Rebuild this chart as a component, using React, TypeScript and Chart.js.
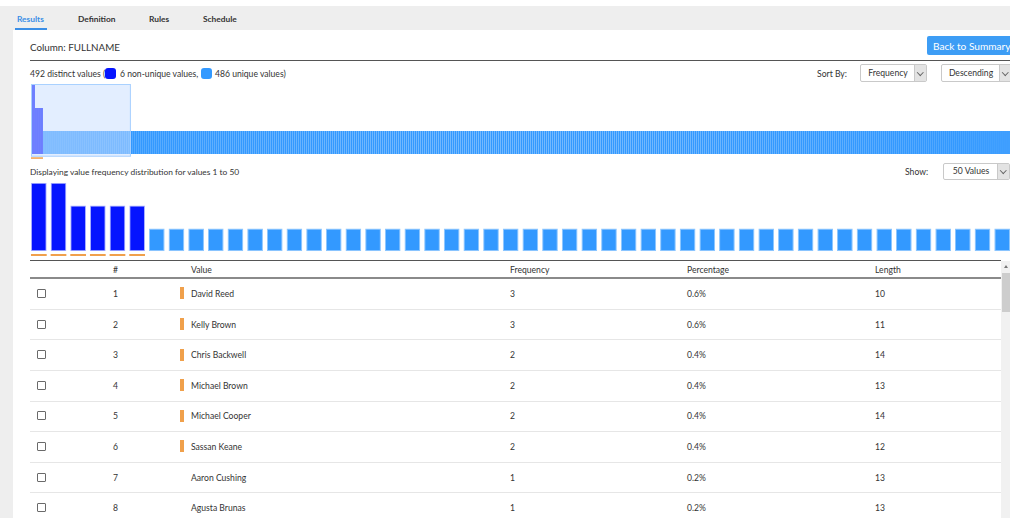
import React, { useEffect, useRef } from "react";
import { Chart, registerables } from "chart.js";

Chart.register(...registerables);

// ---------- data ----------
const nonUniqueFrequencies = [3, 3, 2, 2, 2, 2];
const uniqueValueCount = 486; // "486 unique values" – each occurs exactly once
const uniqueFrequency = 1;
const distinctCount = 492;
const detailRange = [1, 50];
const yMax = 3;

const tableNumbers = [1, 2, 3, 4, 5, 6, 7, 8];
const tableValues = [
  "David Reed",
  "Kelly Brown",
  "Chris Backwell",
  "Michael Brown",
  "Michael Cooper",
  "Sassan Keane",
  "Aaron Cushing",
  "Agusta Brunas",
];
const tableFrequencies = [3, 3, 2, 2, 2, 2, 1, 1];
const tablePercentages = ["0.6%", "0.6%", "0.4%", "0.4%", "0.4%", "0.4%", "0.2%", "0.2%"];
const tableLengths = [10, 11, 14, 13, 14, 12, 13, 13];

const allFrequencies: number[] = [
  ...nonUniqueFrequencies,
  ...new Array(uniqueValueCount).fill(uniqueFrequency),
];
const allLabels = allFrequencies.map((_, i) => String(i + 1));
const detailFrequencies = allFrequencies.slice(detailRange[0] - 1, detailRange[1]);
const detailLabels = allLabels.slice(detailRange[0] - 1, detailRange[1]);

// ---------- styles ----------
const FONT = "Lato, 'Open Sans', sans-serif";
const NON_UNIQUE = "#0514ff";
const UNIQUE = "#3399ff";
const ORANGE = "#f0a04b";
const TEXT = "#333333";

function markerPlugin(offset: number, h: number, fullPitch: boolean) {
  return {
    id: "nonUniqueMarkers",
    afterDatasetsDraw(chart: any) {
      const ctx = chart.ctx;
      const meta = chart.getDatasetMeta(0);
      const data = chart.data.datasets[0].data as number[];
      const xs = chart.scales.x;
      const pitch = xs.getPixelForValue(1) - xs.getPixelForValue(0);
      ctx.save();
      ctx.fillStyle = ORANGE;
      meta.data.forEach((el: any, i: number) => {
        if (data[i] > uniqueFrequency) {
          const { x, width } = el.getProps(["x", "width"], true);
          const w = fullPitch ? pitch : width;
          ctx.fillRect(x - w / 2, chart.chartArea.bottom + offset, w, h);
        }
      });
      ctx.restore();
    },
  };
}

const selectionPlugin = {
  id: "selection",
  afterDatasetsDraw(chart: any) {
    const ctx = chart.ctx;
    const xs = chart.scales.x;
    const pitch = xs.getPixelForValue(1) - xs.getPixelForValue(0);
    const l = xs.getPixelForValue(detailRange[0] - 1) - pitch / 2;
    const r = xs.getPixelForValue(detailRange[1] - 1) + pitch / 2;
    const t = chart.chartArea.top - 1;
    const b = chart.chartArea.bottom + 2.7;
    ctx.save();
    ctx.fillStyle = "rgba(200,222,255,0.5)";
    ctx.fillRect(l, t, r - l, b - t);
    ctx.strokeStyle = "#a9d1ff";
    ctx.lineWidth = 1;
    ctx.strokeRect(l + 0.5, t + 0.5, r - l - 1, b - t - 1);
    ctx.restore();
  },
};

function useBarChart(
  ref: React.RefObject<HTMLCanvasElement>,
  labels: string[],
  values: number[],
  opts: {
    padTop: number;
    padBottom: number;
    barPct: number;
    border: boolean;
    plugins: any[];
  }
) {
  useEffect(() => {
    if (!ref.current) return;
    const chart = new Chart(ref.current, {
      type: "bar",
      data: {
        labels,
        datasets: [
          {
            data: values,
            backgroundColor: values.map((v) => (v > uniqueFrequency ? NON_UNIQUE : UNIQUE)),
            borderColor: values.map((v) => (v > uniqueFrequency ? "#a9b1ff" : "#8cc6ff")),
            borderWidth: opts.border ? 1 : 0,
            borderSkipped: false,
            barPercentage: opts.barPct,
            categoryPercentage: 1,
          },
        ],
      },
      options: {
        responsive: false,
        animation: false,
        layout: { padding: { top: opts.padTop, bottom: opts.padBottom, left: 0, right: 0 } },
        scales: {
          x: { display: false, offset: true },
          y: { display: false, min: 0, max: yMax },
        },
        plugins: { legend: { display: false }, tooltip: { enabled: false } },
      },
      plugins: opts.plugins,
    });
    return () => chart.destroy();
  }, []);
}

function T(props: {
  x: number;
  y: number;
  size?: number;
  color?: string;
  weight?: number;
  children: React.ReactNode;
}) {
  const { x, y, size = 8.6, color = TEXT, weight = 400, children } = props;
  return (
    <div
      style={{
        position: "absolute",
        left: x,
        top: y - 7,
        height: 14,
        lineHeight: "14px",
        fontSize: size,
        fontWeight: weight,
        color,
        whiteSpace: "nowrap",
        fontFamily: FONT,
      }}
    >
      {children}
    </div>
  );
}

function Select(props: { x: number; y: number; w: number; h: number; label: string }) {
  const { x, y, w, h, label } = props;
  const aw = 11;
  return (
    <div
      style={{
        position: "absolute",
        left: x,
        top: y,
        width: w,
        height: h,
        boxSizing: "border-box",
        border: "1px solid #c9c9c9",
        borderRadius: 2,
        background: "#fff",
        fontFamily: FONT,
      }}
    >
      <div
        style={{
          position: "absolute",
          left: 0,
          top: 0,
          width: w - aw - 2,
          height: h - 2,
          lineHeight: `${h - 2}px`,
          textAlign: "center",
          fontSize: 8.6,
          color: TEXT,
        }}
      >
        {label}
      </div>
      <div
        style={{
          position: "absolute",
          right: 0,
          top: 0,
          width: aw,
          height: h - 2,
          background: "#e3e3e3",
          borderLeft: "1px solid #c9c9c9",
        }}
      >
        <div
          style={{
            position: "absolute",
            left: 3,
            top: (h - 2) / 2 - 3.5,
            width: 3.5,
            height: 3.5,
            borderRight: "1px solid #666",
            borderBottom: "1px solid #666",
            transform: "rotate(45deg)",
          }}
        />
      </div>
    </div>
  );
}

function Swatch(props: { x: number; color: string }) {
  return (
    <div
      style={{
        position: "absolute",
        left: props.x,
        top: 68,
        width: 11,
        height: 11,
        borderRadius: 3,
        background: props.color,
      }}
    />
  );
}

export default function App() {
  const overviewRef = useRef<HTMLCanvasElement>(null);
  const detailRef = useRef<HTMLCanvasElement>(null);

  useBarChart(overviewRef, allLabels, allFrequencies, {
    padTop: 2,
    padBottom: 6,
    barPct: 0.94,
    border: false,
    plugins: [selectionPlugin, markerPlugin(3.3, 1.5, true)],
  });
  useBarChart(detailRef, detailLabels, detailFrequencies, {
    padTop: 2.7,
    padBottom: 8.7,
    barPct: 0.8,
    border: true,
    plugins: [markerPlugin(2.7, 2, false)],
  });

  const rowTop = 278.6;
  const rowH = 30.6;

  return (
    <div
      style={{
        position: "fixed",
        left: 0,
        top: 0,
        width: 1010,
        height: 518,
        overflow: "hidden",
        background: "#ffffff",
        fontFamily: FONT,
      }}
    >
      {/* page background */}
      <div style={{ position: "absolute", left: 0, top: 6, width: 1010, height: 512, background: "#eeeeee" }} />
      <div style={{ position: "absolute", left: 13, top: 30, width: 1100, height: 500, background: "#ffffff" }} />

      {/* tabs */}
      <T x={17} y={19} size={8.4} weight={700} color="#3a8ee6">Results</T>
      <T x={78} y={19} size={8.4} weight={700}>Definition</T>
      <T x={149} y={19} size={8.4} weight={700}>Rules</T>
      <T x={203} y={19} size={8.4} weight={700}>Schedule</T>
      <div style={{ position: "absolute", left: 15, top: 28, width: 32, height: 2, background: "#3a8ee6" }} />

      {/* header */}
      <T x={30} y={46.5} size={9.8}>Column: FULLNAME</T>
      <div
        style={{
          position: "absolute",
          left: 927,
          top: 35.5,
          width: 95,
          height: 19.5,
          background: "#3d9df5",
          borderRadius: 2,
        }}
      />
      <T x={933} y={45.5} size={10.1} color="#ffffff">Back to Summary</T>
      <div style={{ position: "absolute", left: 30, top: 60, width: 1000, height: 1, background: "#555" }} />

      {/* legend row */}
      <T x={30} y={73.5}>{`${distinctCount} distinct values (`}</T>
      <Swatch x={105} color={NON_UNIQUE} />
      <T x={120} y={73.5}>{`${nonUniqueFrequencies.length} non-unique values,`}</T>
      <Swatch x={201} color={UNIQUE} />
      <T x={215} y={73.5}>{`${uniqueValueCount} unique values)`}</T>

      <T x={817} y={73.5}>Sort By:</T>
      <Select x={860} y={64} w={67} h={18} label="Frequency" />
      <Select x={941} y={64} w={71} h={18} label="Descending" />

      {/* overview chart */}
      <canvas
        ref={overviewRef}
        width={983}
        height={77}
        style={{ position: "absolute", left: 31, top: 83, width: 983, height: 77 }}
      />

      <T x={30} y={172.3} size={8.4}>{`Displaying value frequency distribution for values ${detailRange[0]} to ${detailRange[1]}`}</T>
      <T x={905} y={172}>Show:</T>
      <Select x={943} y={163} w={67} h={17} label={`${detailRange[1]} Values`} />

      {/* detail chart */}
      <canvas
        ref={detailRef}
        width={983}
        height={80}
        style={{ position: "absolute", left: 29, top: 180, width: 983, height: 80 }}
      />

      {/* table */}
      <div style={{ position: "absolute", left: 30, top: 260, width: 971, height: 1, background: "#555" }} />
      <T x={113} y={269.5}>#</T>
      <T x={191} y={269.5}>Value</T>
      <T x={510} y={269.5}>Frequency</T>
      <T x={687} y={269.5}>Percentage</T>
      <T x={875} y={269.5}>Length</T>
      <div style={{ position: "absolute", left: 30, top: 277, width: 971, height: 2, background: "#8a8a8a" }} />

      {tableNumbers.map((n, i) => {
        const top = rowTop + i * rowH;
        const cy = top + rowH / 2;
        return (
          <React.Fragment key={n}>
            <div
              style={{
                position: "absolute",
                left: 37,
                top: cy - 5,
                width: 9,
                height: 9,
                boxSizing: "border-box",
                border: "1px solid #6a6a6a",
                borderRadius: 1,
                background: "#fff",
              }}
            />
            <T x={113} y={cy}>{n}</T>
            {tableFrequencies[i] > uniqueFrequency && (
              <div
                style={{
                  position: "absolute",
                  left: 180,
                  top: cy - 6.5,
                  width: 4,
                  height: 12,
                  background: ORANGE,
                }}
              />
            )}
            <T x={191} y={cy}>{tableValues[i]}</T>
            <T x={510} y={cy}>{tableFrequencies[i]}</T>
            <T x={687} y={cy}>{tablePercentages[i]}</T>
            <T x={875} y={cy}>{tableLengths[i]}</T>
            <div
              style={{
                position: "absolute",
                left: 30,
                top: top + rowH - 0.5,
                width: 971,
                height: 1,
                background: "#e6e6e6",
              }}
            />
          </React.Fragment>
        );
      })}

      {/* scrollbar */}
      <div style={{ position: "absolute", left: 1001, top: 261, width: 10, height: 260, background: "#f1f1f1" }} />
      <div
        style={{
          position: "absolute",
          left: 1003.5,
          top: 265,
          width: 0,
          height: 0,
          borderLeft: "2.5px solid transparent",
          borderRight: "2.5px solid transparent",
          borderBottom: "3px solid #777",
        }}
      />
      <div style={{ position: "absolute", left: 1002, top: 273, width: 9, height: 39, background: "#cdcdcd" }} />
    </div>
  );
}
